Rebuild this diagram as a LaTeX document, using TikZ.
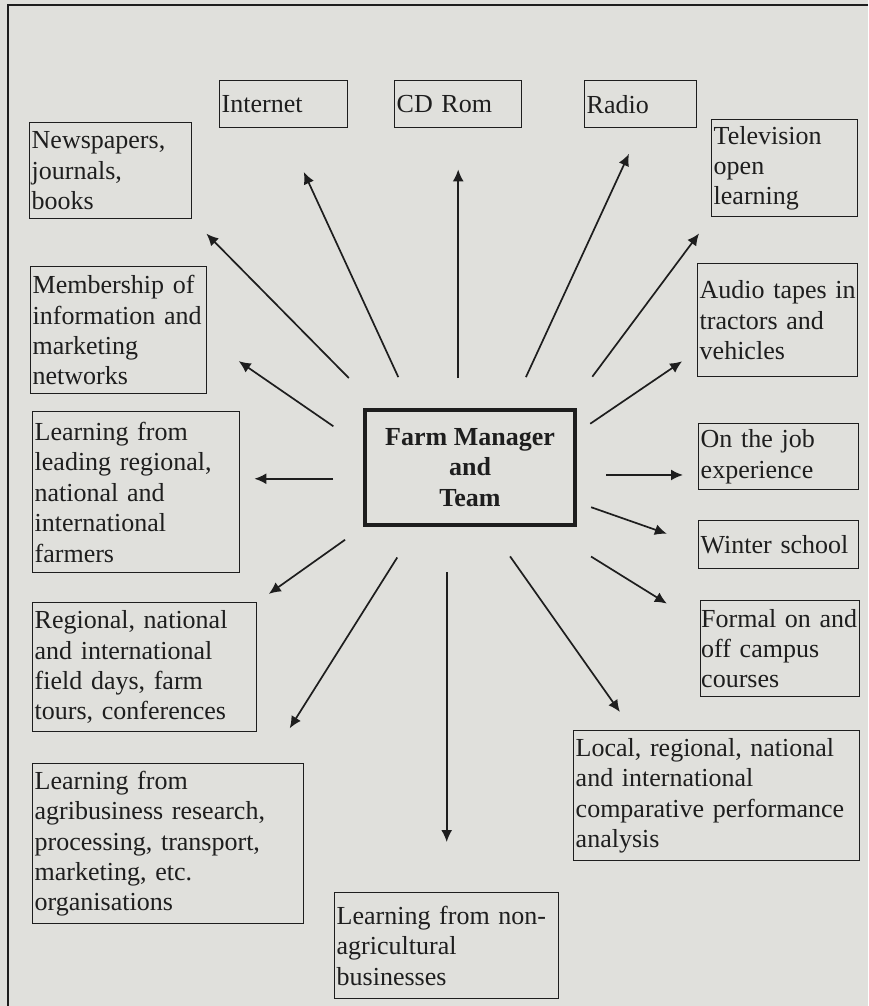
\documentclass[tikz,border=0pt]{standalone}
\usepackage{fontspec}
\setmainfont{Liberation Serif}
\usetikzlibrary{arrows.meta}
\definecolor{paper}{RGB}{224,224,220}
\definecolor{ink}{RGB}{30,30,30}

\begin{document}
\begin{tikzpicture}[x=0.5pt,y=-0.5pt,
  every node/.style={font=\fontsize{13}{15.2}\selectfont,text=ink},
  channel/.style={draw=ink,line width=0.7pt,shape=rectangle,align=left,anchor=north west,inner xsep=1pt,inner ysep=2pt},
  manager/.style={draw=ink,line width=2pt,shape=rectangle,align=center,anchor=north west,minimum width=105pt,minimum height=57.5pt,font=\fontsize{13}{15.2}\selectfont\bfseries},
  link/.style={draw=ink,line width=0.85pt,-{Latex[length=6pt,width=5.5pt]}}]
  \fill[paper] (0,0) rectangle (868,1006);
  \useasboundingbox (0,0) rectangle (868,1006);
  \draw[ink,line width=1pt] (868,5) -- (8,5) -- (8,1006);

  \node[manager] (fmt) at (363,408) {Farm Manager\\and\\Team};

  \node[channel,text width=62pt,minimum height=23.5pt] (internet) at (219,80) {Internet};
  \node[channel,text width=61.5pt,minimum height=23.5pt] (cdrom) at (394,80) {CD Rom};
  \node[channel,text width=54pt,minimum height=23.5pt] (radio) at (584,80) {Radio};
  \node[channel,text width=79pt,minimum height=48pt] (news) at (29,122) {Newspapers,\\journals,\\books};
  \node[channel,text width=71pt,minimum height=48.5pt] (tv) at (711,119) {Television\\open\\learning};
  \node[channel,text width=86pt,minimum height=63.5pt] (member) at (30,266) {Membership of\\information and\\marketing\\networks};
  \node[channel,text width=78pt,minimum height=56.5pt] (audio) at (697,263) {Audio tapes in\\tractors and\\vehicles};
  \node[channel,text width=101.5pt,minimum height=80.5pt] (leading) at (32,411) {Learning from\\leading regional,\\national and\\international\\farmers};
  \node[channel,text width=78pt,minimum height=33pt] (job) at (698,423) {On the job\\experience};
  \node[channel,text width=78pt,minimum height=24pt] (winter) at (698,520) {Winter school};
  \node[channel,text width=79pt,inner xsep=0.25pt,minimum height=48pt] (formal) at (700,600) {\mbox{Formal on and}\\off campus\\courses};
  \node[channel,text width=110pt,minimum height=64.5pt] (regional) at (32,602) {Regional, national\\and international\\field days, farm\\tours, conferences};
  \node[channel,text width=133.5pt,minimum height=80pt] (agri) at (32,763) {Learning from\\agribusiness research,\\processing, transport,\\marketing, etc.\\organisations};
  \node[channel,text width=141pt,minimum height=65pt] (local) at (573,730) {Local, regional, national\\and international\\comparative performance\\analysis};
  \node[channel,text width=110pt,minimum height=53pt] (nonagri) at (334,892) {Learning from non-\\agricultural\\businesses};

  \draw[link,shorten <=21pt,shorten >=10pt] (fmt.147) -- (news.south east);
  \draw[link,shorten <=17pt,shorten >=24pt] (fmt.134) -- (internet.south);
  \draw[link,shorten <=15pt,shorten >=20.5pt] (cdrom.south |- fmt.north) -- (cdrom.south);
  \draw[link,shorten <=17pt,shorten >=14pt] (fmt.55) -- (radio.south);
  \draw[link,shorten <=19.5pt,shorten >=10pt] (fmt.31) -- (tv.south west);
  \draw[link,shorten <=8pt,shorten >=9pt] (fmt.18) -- (audio.201);
  \draw[link,shorten <=18pt,shorten >=19pt] (fmt.169) -- (member.-6);
  \draw[link,shorten <=15pt,shorten >=7pt] (fmt.186) -- (fmt.186 -| leading.east);
  \draw[link,shorten <=11pt,shorten >=7pt] (fmt.south west) -- (regional.north east);
  \draw[link,shorten <=18pt,shorten >=20.5pt] (fmt.228) -- (agri.39);
  \draw[link,shorten <=22.5pt,shorten >=25pt] (nonagri.north |- fmt.south) -- (nonagri.north);
  \draw[link,shorten <=18pt,shorten >=11pt] (fmt.-72) -- (local.142);
  \draw[link,shorten <=28pt,shorten >=19.5pt] (fmt.-39) -- (formal.163);
  \draw[link,shorten <=7.5pt,shorten >=16.5pt] (fmt.-18) -- (winter.west);
  \draw[link,shorten <=14.5pt,shorten >=7.5pt] (fmt.-4) -- (fmt.-4 -| job.west);
\end{tikzpicture}
\end{document}
